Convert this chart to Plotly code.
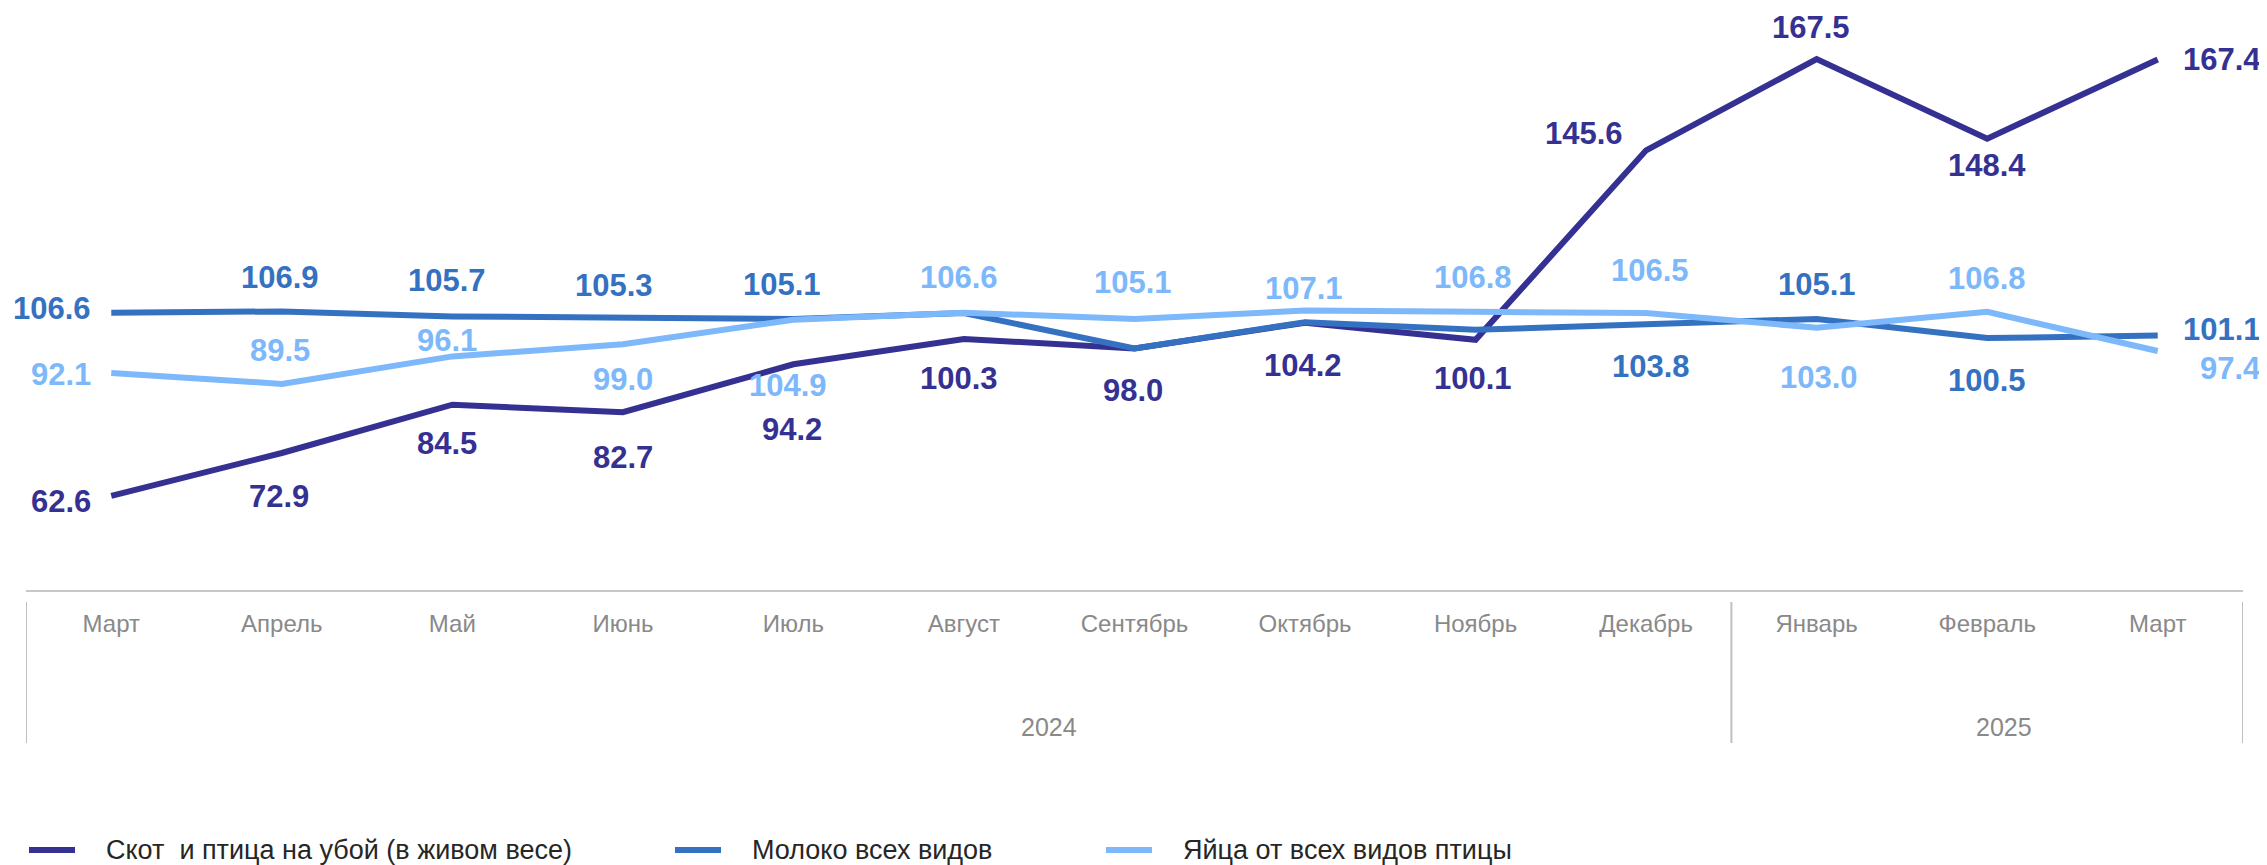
import plotly.graph_objects as go

# ---- data ----
months = ["Март", "Апрель", "Май", "Июнь", "Июль", "Август", "Сентябрь",
          "Октябрь", "Ноябрь", "Декабрь", "Январь", "Февраль", "Март"]
years = ["2024"] * 10 + ["2025"] * 3

livestock = [62.6, 72.9, 84.5, 82.7, 94.2, 100.3, 98.0, 104.2, 100.1, 145.6, 167.5, 148.4, 167.4]
milk = [106.6, 106.9, 105.7, 105.3, 105.1, 106.5, 98.0, 104.3, 102.5, 103.8, 105.1, 100.5, 101.1]
eggs = [92.1, 89.5, 96.1, 99.0, 104.9, 106.6, 105.1, 107.1, 106.8, 106.5, 103.0, 106.8, 97.4]

names = ["Скот  и птица на убой (в живом весе)", "Молоко всех видов", "Яйца от всех видов птицы"]
colors = ["#353192", "#3571c1", "#7db8fb"]

# label placement: (xanchor, xshift px, center offset px downward); None = label not shown
R = 105  # right-end labels sit against the image edge
livestock_pos = [("right", -18, 6), ("center", -3, 43), ("center", -5, 39), ("center", 0, 45),
                 ("center", -1, 65), ("center", -5, 40), ("center", -2, 42), ("center", -2, 43),
                 ("center", -3, 39), ("right", -21, -17), ("center", -6, -32), ("center", 0, 27),
                 ("right", R, 0)]
milk_pos = [("right", -18, -4), ("center", -2, -34), ("center", -5, -36), ("center", -9, -33),
            ("center", -11, -34), None, None, None, None, ("center", 5, 42), ("center", 0, -34),
            ("center", 0, 42), ("right", R, -6)]
eggs_pos = [("right", -18, 1), ("center", -2, -33), ("center", -5, -16), ("center", 0, 35),
            ("center", -5, 66), ("center", -5, -35), ("center", -2, -36), ("center", -1, -22),
            ("center", -3, -34), ("center", 4, -43), ("center", 2, 50), ("center", 0, -33),
            ("right", R, 18)]

FONT = "Liberation Sans, Arial, sans-serif"
OFF = 8  # page body margin
W, H = 2267 - OFF, 865 - OFF
ML, MR, MT, MB = 18, 24, 0, 275
PW, PH = W - ML - MR, H - MT - MB

def px_x(p):  # page pixel -> paper x
    return (p - OFF - ML) / PW

def px_y(p):  # page pixel -> paper y
    return (H - MB - (p - OFF)) / PH

x = list(range(len(months)))
fig = go.Figure()
annotations = []
for vals, pos, name, col in zip([livestock, milk, eggs], [livestock_pos, milk_pos, eggs_pos], names, colors):
    fig.add_trace(go.Scatter(x=x, y=vals, mode="lines", name=name,
                             line=dict(color=col, width=6), showlegend=False))
    for i, v in enumerate(vals):
        if pos[i] is None:
            continue
        xa, xs, dy = pos[i]
        annotations.append(dict(x=i, y=v, xref="x", yref="y", text=f"{v:.1f}", showarrow=False,
                                xanchor=xa, yanchor="middle", xshift=xs, yshift=-dy,
                                font=dict(family=FONT, size=31, color=col, weight="bold")))

# year labels and group dividers
groups = []
for i, yv in enumerate(years):
    if not groups or groups[-1][0] != yv:
        groups.append([yv, i, i])
    else:
        groups[-1][2] = i
year_x = {"2024": 5.5, "2025": 11.1}
shapes = []
for yv, a, b in groups:
    annotations.append(dict(x=year_x[yv], y=px_y(727), xref="x", yref="paper", text=yv,
                            showarrow=False, xanchor="center", yanchor="middle",
                            font=dict(family=FONT, size=25, color="#898989")))
bounds = [groups[0][1] - 0.5] + [g[2] + 0.5 for g in groups]
for b in bounds:
    shapes.append(dict(type="line", xref="x", yref="paper", x0=b, x1=b,
                       y0=px_y(602), y1=px_y(743), line=dict(color="#c0c0c0", width=2)))

# legend drawn by hand
leg_sym = [29, 675, 1106]
for name, col, sx in zip(names, colors, leg_sym):
    shapes.append(dict(type="line", xref="paper", yref="paper", x0=px_x(sx), x1=px_x(sx + 46),
                       y0=px_y(850), y1=px_y(850), line=dict(color=col, width=6)))
    annotations.append(dict(x=px_x(sx + 75), y=px_y(850), xref="paper", yref="paper", text=name,
                            showarrow=False, xanchor="left", yanchor="middle",
                            font=dict(family=FONT, size=27, color="#262626")))

# plot top sits at page y=8 -> keep the 40..180 scale (4.164 px per unit)
ytop = 40 + PH / 4.164
fig.update_layout(
    width=W, height=H,
    margin=dict(l=ML, r=MR, t=MT, b=MB, autoexpand=False),
    paper_bgcolor="white", plot_bgcolor="white",
    xaxis=dict(range=[-0.5, len(months) - 0.5], tickvals=x, ticktext=months,
               showline=True, linecolor="#c8c8c8", linewidth=2, showgrid=False, zeroline=False,
               ticks="", ticklabelstandoff=11,
               tickfont=dict(family=FONT, size=24, color="#898989")),
    yaxis=dict(range=[40, ytop], visible=False),
    annotations=annotations, shapes=shapes,
    showlegend=False,
)

fig.write_html("out.html")
